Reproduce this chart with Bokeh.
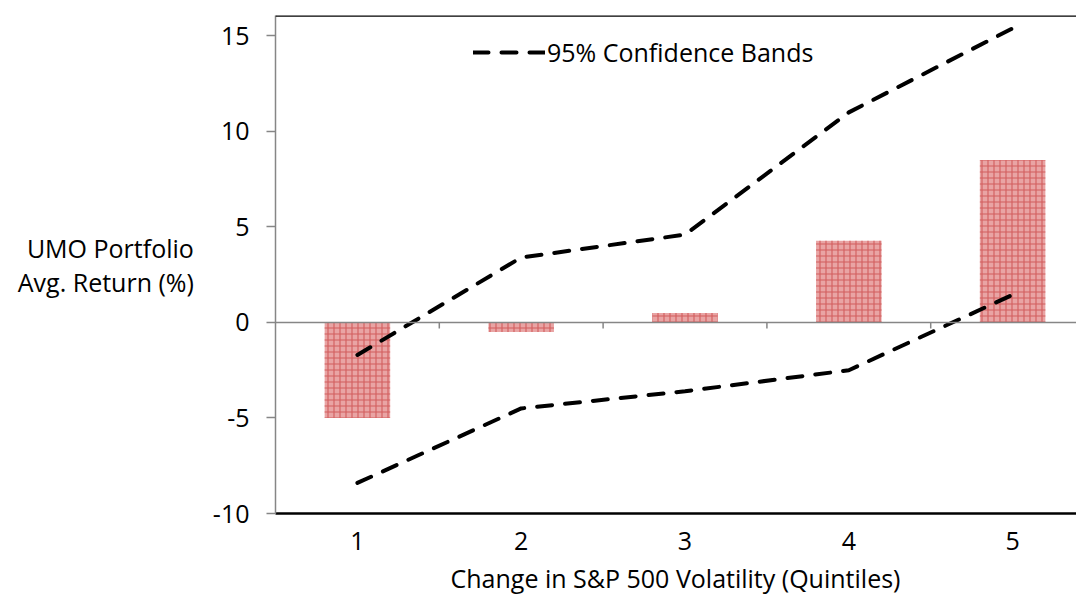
from bokeh.plotting import figure
from bokeh.models import (ColumnDataSource, FixedTicker, Span, Legend, LegendItem,
                          Title, Range1d, PrintfTickFormatter)
from bokeh.embed import file_html
from bokeh.resources import INLINE

# ---- data ----
quintiles = [1, 2, 3, 4, 5]
avg_return = [-5.0, -0.5, 0.5, 4.28, 8.5]
upper_band = [-1.7, 3.4, 4.6, 11.0, 15.4]
lower_band = [-8.4, -4.5, -3.6, -2.5, 1.45]
y_ticks = [-10, -5, 0, 5, 10, 15]
x_label = "Change in S&P 500 Volatility (Quintiles)"
y_label = "UMO Portfolio\nAvg. Return (%)"
legend_label = "95% Confidence Bands"

Y_MIN, Y_MAX = -10, 16.07
X_MIN, X_MAX = 0.5, 5.39
FONT = "Open Sans"
FS = "25px"

src = ColumnDataSource(dict(x=quintiles, ret=avg_return, up=upper_band, lo=lower_band))

p = figure(width=1076, height=606, output_backend="svg", toolbar_location=None,
           x_range=Range1d(X_MIN, X_MAX), y_range=Range1d(Y_MIN, Y_MAX),
           min_border_left=275, min_border_right=0, min_border_top=15, min_border_bottom=93)
p.outline_line_color = None
p.xgrid.visible = False
p.ygrid.visible = False
p.background_fill_color = "white"
p.border_fill_color = "white"

# bars
p.vbar(x="x", top="ret", bottom=0, width=0.4, source=src,
       fill_color="#e9a4a4", line_color=None,
       hatch_pattern="+", hatch_color="#d25c5c", hatch_scale=6, hatch_weight=1.1)

# zero line + category boundary ticks
p.add_layout(Span(location=0, dimension="width", line_color="#868686", line_width=1.5))
bounds = [q + 0.5 for q in quintiles[:-1]]
tick_len = 6 / 19.1
p.segment(x0=bounds, x1=bounds, y0=[0] * len(bounds), y1=[-tick_len] * len(bounds),
          line_color="#868686", line_width=1.5)

# top border
p.add_layout(Span(location=Y_MAX, dimension="width", line_color="black", line_width=2.5))

# confidence bands
dash = "15 13"
r_up = p.line("x", "up", source=src, line_color="black", line_width=4,
              line_dash=dash, line_cap="round")
p.line("x", "lo", source=src, line_color="black", line_width=4,
       line_dash=dash, line_cap="round")

# axes
xa = p.xaxis[0]
xa.ticker = FixedTicker(ticks=quintiles)
xa.axis_line_color = "black"
xa.axis_line_width = 2.5
xa.major_tick_line_color = None
xa.minor_tick_line_color = None
xa.major_label_standoff = 12
xa.major_label_text_font = FONT
xa.major_label_text_font_size = FS
xa.major_label_text_color = "black"

ya = p.yaxis[0]
ya.ticker = FixedTicker(ticks=y_ticks)
ya.formatter = PrintfTickFormatter(format="%d")
ya.axis_line_color = "#868686"
ya.axis_line_width = 1.5
ya.major_tick_line_color = "#868686"
ya.major_tick_line_width = 1.5
ya.major_tick_out = 9
ya.major_tick_in = 0
ya.minor_tick_line_color = None
ya.major_label_standoff = 17
ya.major_label_text_font = FONT
ya.major_label_text_font_size = FS
ya.major_label_text_color = "black"
ya.axis_label = y_label
ya.axis_label_orientation = "horizontal"
ya.axis_label_text_font = FONT
ya.axis_label_text_font_size = FS
ya.axis_label_text_font_style = "normal"
ya.axis_label_text_color = "black"
ya.axis_label_text_line_height = 1.0
ya.axis_label_standoff = 16

t = Title(text=x_label, align="left", offset=175, text_font=FONT,
          text_font_size=FS, text_font_style="normal", text_color="black", standoff=12)
p.add_layout(t, "below")

leg = Legend(items=[LegendItem(label=legend_label, renderers=[r_up])],
             location=(198, 444), glyph_width=72, glyph_height=30, label_height=30,
             label_standoff=2, padding=0, margin=0, border_line_color=None,
             background_fill_alpha=0, label_text_font=FONT, label_text_font_size=FS,
             label_text_color="black")
p.add_layout(leg)

open("out.html", "w").write(file_html(p, INLINE))
